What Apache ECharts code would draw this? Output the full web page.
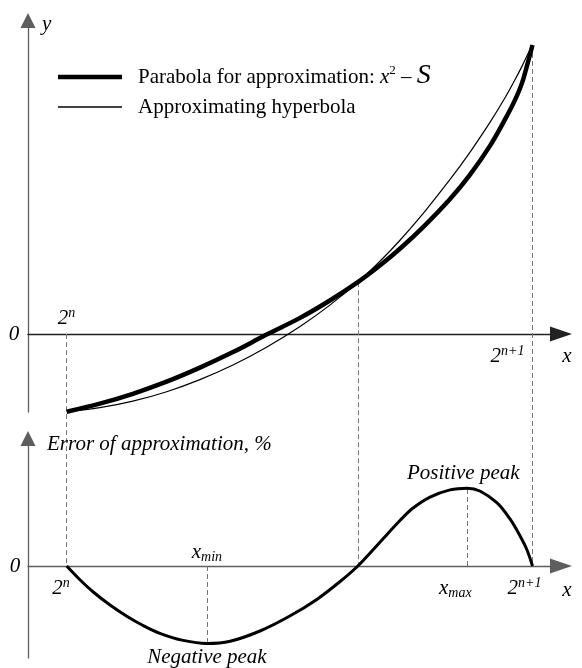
<!DOCTYPE html>
<html>
<head>
<meta charset="utf-8">
<script src="https://cdn.jsdelivr.net/npm/echarts@6/dist/echarts.min.js"></script>
<style>
  html, body { margin: 0; padding: 0; background: #fff; }
  #chart { width: 582px; height: 668px; }
</style>
</head>
<body>
<div id="chart"></div>
<script>
// Abscissa in units of 2^n: 2^n -> 1, 2^(n+1) -> 2
const xCurve     = [1.000, 1.071, 1.142, 1.213, 1.286, 1.357, 1.428, 1.501, 1.565, 1.625,
                    1.673, 1.716, 1.769, 1.823, 1.866, 1.909, 1.941, 1.962, 1.977, 1.990, 2.000];
// Parabola x^2 - S (thick) and the approximating hyperbola (thin)
const parabolaY  = [-0.636, -0.570, -0.489, -0.392, -0.275, -0.148, -0.007, 0.132, 0.274, 0.424,
                    0.562, 0.699, 0.889, 1.104, 1.304, 1.541, 1.755, 1.911, 2.048, 2.220, 2.364];
const hyperbolaY = [-0.636, -0.603, -0.549, -0.474, -0.373, -0.254, -0.111, 0.061, 0.236, 0.424,
                    0.597, 0.769, 1.004, 1.264, 1.488, 1.733, 1.932, 2.077, 2.187, 2.290, 2.364];

// Relative error of the approximation
const xError     = [1.000, 1.029, 1.057, 1.093, 1.129, 1.164, 1.200, 1.250, 1.301, 1.351,
                    1.415, 1.479, 1.537, 1.587, 1.625, 1.673, 1.716, 1.743, 1.780, 1.823,
                    1.860, 1.887, 1.924, 1.952, 1.973, 1.988, 2.000];
const errorY     = [0.000, -0.140, -0.260, -0.390, -0.502, -0.595, -0.673, -0.744, -0.775, -0.752,
                    -0.650, -0.500, -0.334, -0.155, 0.000, 0.241, 0.457, 0.577, 0.689, 0.761,
                    0.778, 0.750, 0.631, 0.468, 0.303, 0.163, 0.000];

// Guide positions: 2^n, curve intersection, 2^(n+1)
const guideX     = [1.000, 1.625, 2.000];
const guideTopY  = [0.000, 0.424, 2.364];
// Error extremes: x_min / Negative peak, x_max / Positive peak
const peakX      = [1.301, 1.860];
const peakY      = [-0.775, 0.778];

const FONT = 'Liberation Serif';
const AXIS_GRAY = '#5e5e5e';

// ---- layout (pixels) ----
const LEFT = 28, AXIS_END = 561;
const X_ONE_PX = 66.7, X_PPU = 465.8;                 // where x = 1 sits, px per unit of x
const xMinV = 1 - (X_ONE_PX - LEFT) / X_PPU;
const xMaxV = 1 + (AXIS_END - X_ONE_PX) / X_PPU;
const TOP = { zero: 334, ppu: 122.25, top: 20.5, bottom: 412 };
const BOT = { zero: 566, ppu: 100, top: 438.5, bottom: 658 };
const H = 668;
const botZeroInTopUnits = -(BOT.zero - TOP.zero) / TOP.ppu;

const zip = (xs, ys) => xs.map((x, i) => [x, ys[i]]);

function xAxisCfg(gridIndex, visible, color) {
  return {
    type: 'value', gridIndex, min: xMinV, max: xMaxV,
    axisLine: { show: visible, onZero: true, symbol: ['none', 'triangle'], symbolSize: [15, 22],
                lineStyle: { color: color, width: 1.3 } },
    axisTick: { show: false }, axisLabel: { show: false }, splitLine: { show: false }
  };
}
function yAxisCfg(gridIndex, min, max, visible) {
  return {
    type: 'value', gridIndex, min, max,
    axisLine: { show: visible, onZero: false, symbol: ['none', 'triangle'], symbolSize: [15, 15],
                lineStyle: { color: AXIS_GRAY, width: 1.3 } },
    axisTick: { show: false }, axisLabel: { show: false }, splitLine: { show: false }
  };
}

const PARABOLA_NAME = 'Parabola for approximation: x2 - S';
const HYPERBOLA_NAME = 'Approximating hyperbola';

const legendRich = {
  g: { width: 11 },
  t: { fontFamily: FONT, fontSize: 21, lineHeight: 26, color: '#000' },
  i: { fontFamily: FONT, fontSize: 21, fontStyle: 'italic', lineHeight: 26, color: '#000' },
  p: { fontFamily: FONT, fontSize: 13, lineHeight: 16, verticalAlign: 'top', color: '#000' },
  S: { fontFamily: FONT, fontSize: 28, fontStyle: 'italic', lineHeight: 26, padding: [0, 0, 3, 0], color: '#000' }
};
function legendCfg(name, thickness, top) {
  return {
    data: [name], left: 58, top, padding: 0, orient: 'horizontal',
    icon: 'rect', itemWidth: 64, itemHeight: thickness, selectedMode: false,
    itemStyle: { borderWidth: 0 },
    textStyle: { rich: legendRich },
    formatter: n => n === PARABOLA_NAME
      ? '{g|}{t|Parabola for approximation: }{i|x}{p|2}{t| – }{S|S}'
      : '{g|}{t|Approximating hyperbola}'
  };
}

const curveSmooth = 0.35;

const option = {
  animation: false,
  backgroundColor: '#fff',
  grid: [
    { left: LEFT, width: AXIS_END - LEFT, top: TOP.top, height: TOP.bottom - TOP.top },
    { left: LEFT, width: AXIS_END - LEFT, top: BOT.top, height: BOT.bottom - BOT.top },
    { left: LEFT, width: AXIS_END - LEFT, top: 0, height: H }
  ],
  xAxis: [ xAxisCfg(0, true, '#222'), xAxisCfg(1, true, AXIS_GRAY), xAxisCfg(2, false, AXIS_GRAY) ],
  yAxis: [
    yAxisCfg(0, -(TOP.bottom - TOP.zero) / TOP.ppu, (TOP.zero - TOP.top) / TOP.ppu, true),
    yAxisCfg(1, -(BOT.bottom - BOT.zero) / BOT.ppu, (BOT.zero - BOT.top) / BOT.ppu, true),
    yAxisCfg(2, -(H - TOP.zero) / TOP.ppu, TOP.zero / TOP.ppu, false)
  ],
  legend: [ legendCfg(PARABOLA_NAME, 4.5, 61.5), legendCfg(HYPERBOLA_NAME, 1.3, 96.5) ],
  series: [
    {
      // dashed guides running from the upper plot down to the error axis
      type: 'lines', coordinateSystem: 'cartesian2d', xAxisIndex: 2, yAxisIndex: 2, z: 1,
      silent: true,
      lineStyle: { color: '#777', width: 1, type: [5, 3], opacity: 1 },
      data: guideX.map((x, i) => ({ coords: [[x, guideTopY[i]], [x, botZeroInTopUnits]] }))
    },
    {
      // dashed guides at the error extremes
      type: 'lines', coordinateSystem: 'cartesian2d', xAxisIndex: 1, yAxisIndex: 1, z: 1,
      silent: true,
      lineStyle: { color: '#777', width: 1, type: [5, 3], opacity: 1 },
      data: peakX.map((x, i) => ({ coords: [[x, 0], [x, peakY[i]]] }))
    },
    {
      name: HYPERBOLA_NAME, type: 'line', xAxisIndex: 0, yAxisIndex: 0, z: 3,
      data: zip(xCurve, hyperbolaY), symbol: 'none', smooth: curveSmooth, color: '#000',
      lineStyle: { color: '#000', width: 1.2 }
    },
    {
      name: PARABOLA_NAME, type: 'line', xAxisIndex: 0, yAxisIndex: 0, z: 4,
      data: zip(xCurve, parabolaY), symbol: 'none', smooth: curveSmooth, color: '#000',
      lineStyle: { color: '#000', width: 4.5 }
    },
    {
      name: 'Error', type: 'line', xAxisIndex: 1, yAxisIndex: 1, z: 4,
      data: zip(xError, errorY), symbol: 'none', smooth: curveSmooth, color: '#000',
      lineStyle: { color: '#000', width: 3 }
    }
  ]
};

const chart = echarts.init(document.getElementById('chart'), null, { renderer: 'canvas' });
chart.setOption(option);

// ---- text annotations ----
const richText = {
  b:   { fontFamily: FONT, fontSize: 21, fontStyle: 'italic', lineHeight: 24, fill: '#000' },
  sup: { fontFamily: FONT, fontSize: 14, fontStyle: 'italic', lineHeight: 14, verticalAlign: 'top', fill: '#000' },
  sub: { fontFamily: FONT, fontSize: 14, fontStyle: 'italic', lineHeight: 14, verticalAlign: 'bottom', fill: '#000' }
};
function label(text, x, y, align) {
  return {
    type: 'text', x, y, z: 20, silent: true,
    style: { text, align: align || 'center', verticalAlign: 'middle', fill: '#000',
             fontFamily: FONT, fontSize: 21, fontStyle: 'italic', rich: richText }
  };
}
const negPx = chart.convertToPixel({ gridIndex: 1 }, [peakX[0], peakY[0]]);
const posPx = chart.convertToPixel({ gridIndex: 1 }, [peakX[1], peakY[1]]);
const oneTop = chart.convertToPixel({ gridIndex: 0 }, [1, 0]);
const twoTop = chart.convertToPixel({ gridIndex: 0 }, [2, 0]);
const oneBot = chart.convertToPixel({ gridIndex: 1 }, [1, 0]);
const twoBot = chart.convertToPixel({ gridIndex: 1 }, [2, 0]);

chart.setOption({
  graphic: [
    label('{b|y}', 42, 24, 'left'),
    label('{b|0}', 14, oneTop[1], 'center'),
    label('{b|2}{sup|n}', oneTop[0] - 9, oneTop[1] - 16, 'left'),
    label('{b|2}{sup|n+1}', twoTop[0] - 8, twoTop[1] + 22, 'right'),
    label('{b|x}', 567, twoTop[1] + 22, 'center'),

    label('{b|Error of approximation, %}', 47, 444, 'left'),
    label('{b|0}', 15, oneBot[1], 'center'),
    label('{b|2}{sup|n}', oneBot[0] + 3, oneBot[1] + 22, 'right'),
    label('{b|x}{sub|min}', negPx[0], oneBot[1] - 14, 'center'),
    label('{b|Negative peak}', negPx[0], negPx[1] + 14, 'center'),
    label('{b|Positive peak}', posPx[0] - 4, posPx[1] - 15, 'center'),
    label('{b|x}{sub|max}', posPx[0] - 12, twoBot[1] + 22, 'center'),
    label('{b|2}{sup|n+1}', twoBot[0] - 8, twoBot[1] + 22, 'center'),
    label('{b|x}', 567, twoBot[1] + 24, 'center')
  ]
});
</script>
</body>
</html>
